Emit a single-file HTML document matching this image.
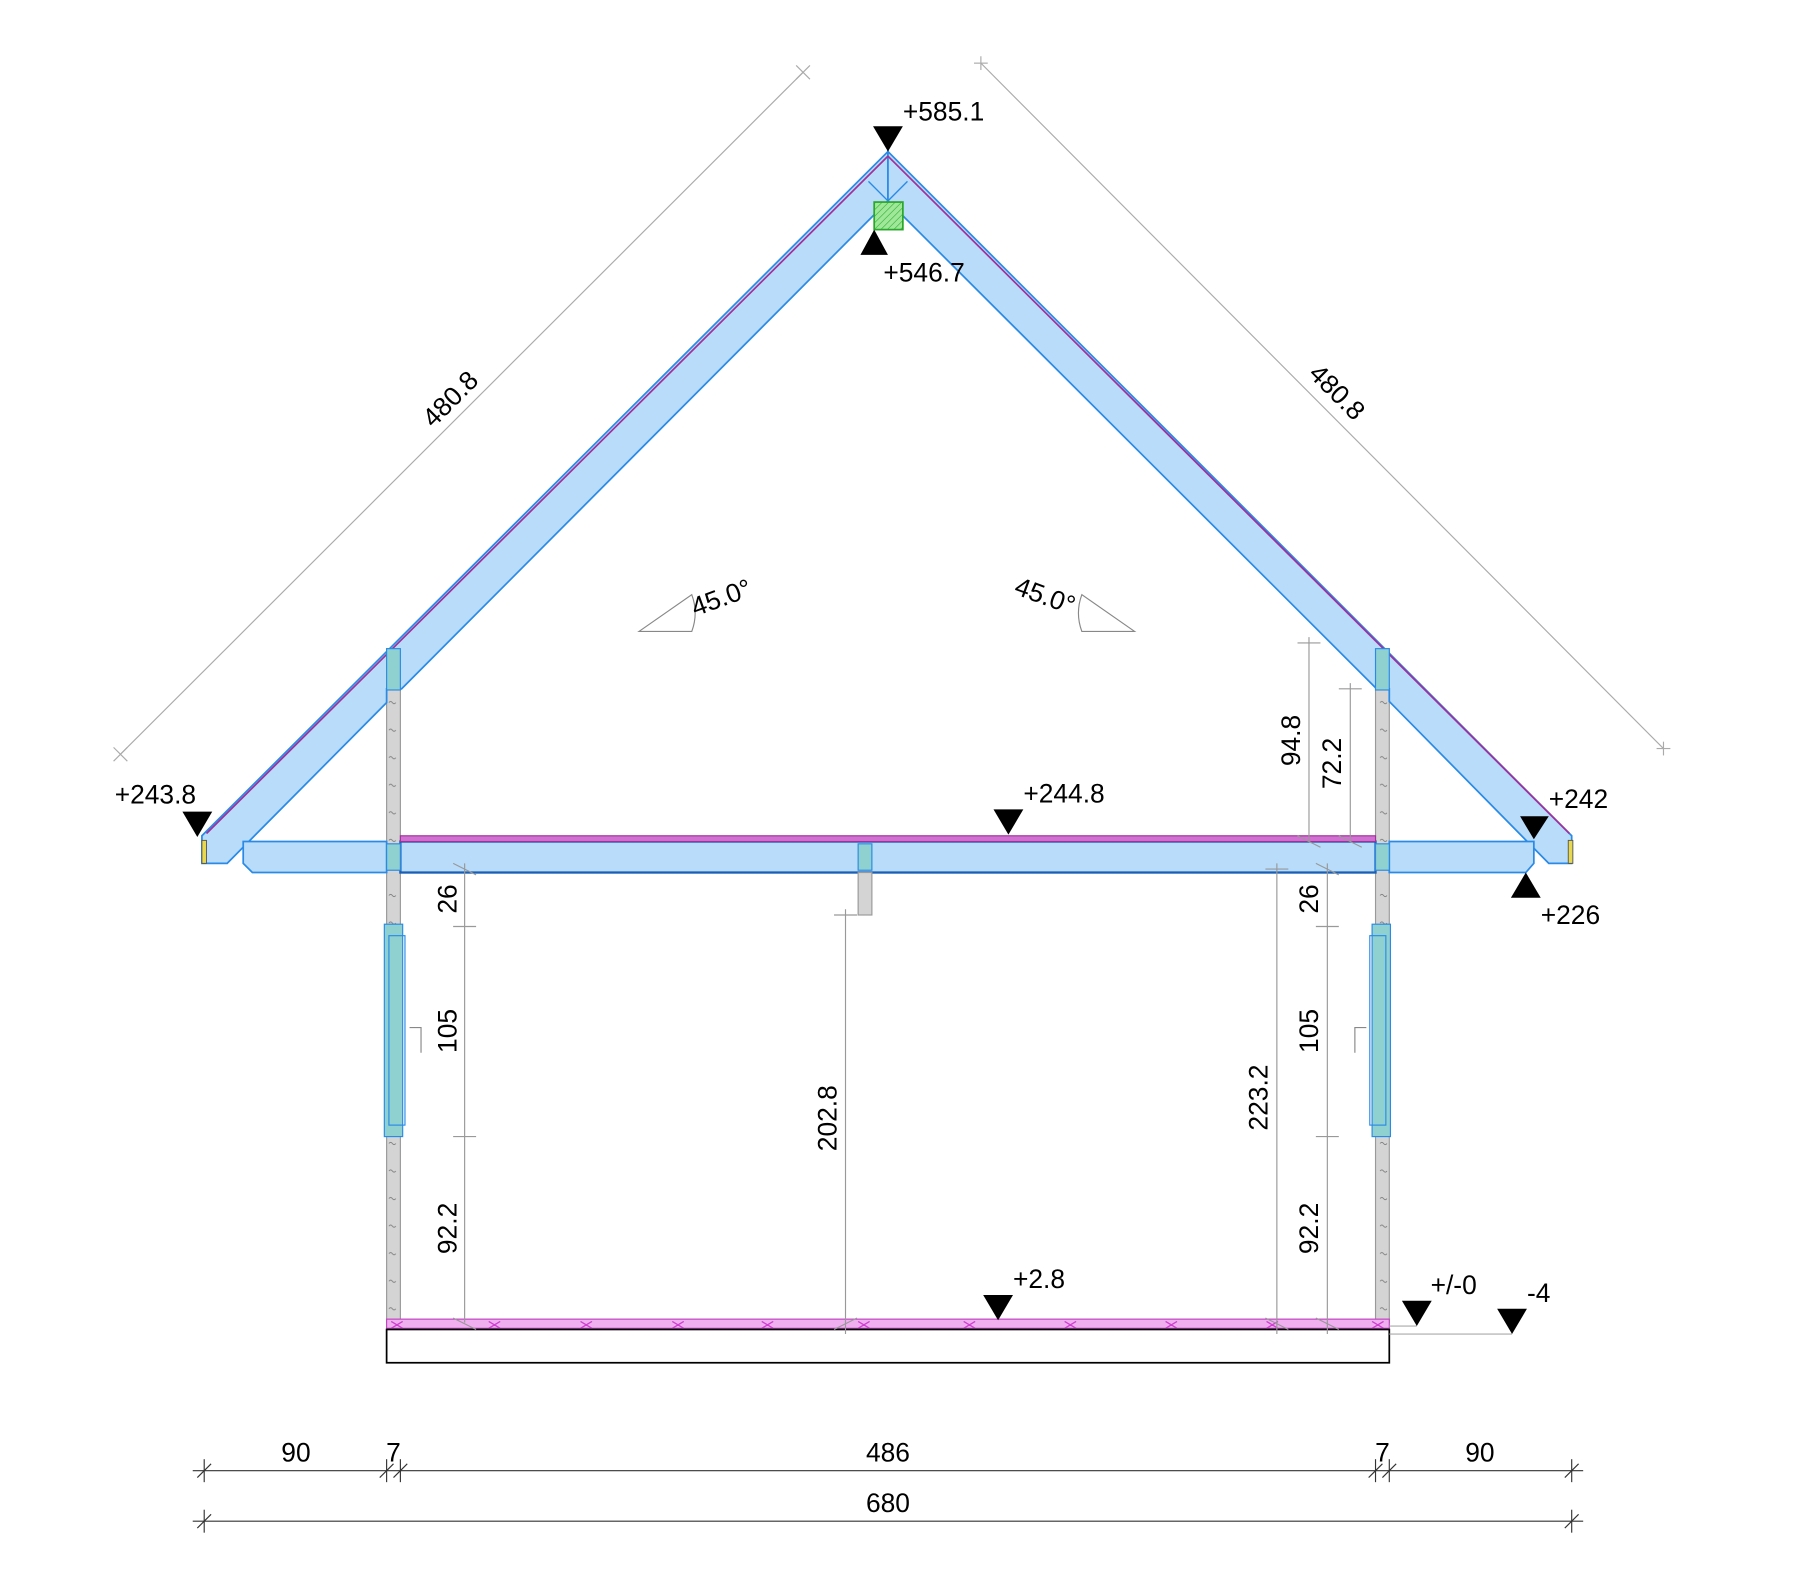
<!DOCTYPE html>
<html><head><meta charset="utf-8"><style>
html,body{margin:0;padding:0;background:#fff;}
svg{display:block}
text{font-family:"Liberation Sans",sans-serif;fill:#000;}
</style></head><body>
<svg width="1800" height="1574" viewBox="0 0 1569 1371" preserveAspectRatio="none" xmlns="http://www.w3.org/2000/svg">
<defs>
<pattern id="h" width="4" height="4" patternUnits="userSpaceOnUse" patternTransform="rotate(45)"><rect width="4" height="4" fill="#9fe89a"/><line x1="0" y1="0" x2="0" y2="4" stroke="#2aa82a" stroke-width="1"/></pattern>
<pattern id="wv" width="12" height="24" patternUnits="userSpaceOnUse"><path d="M3 12 q1.5 -2 3 0 q1.5 2 3 0" stroke="#777" stroke-width="0.7" fill="none"/></pattern>
</defs>
<g stroke="#aaa" stroke-width="1">
<line x1="105" y1="657" x2="700" y2="63"/>
<line x1="99" y1="651" x2="111" y2="663"/><line x1="99" y1="663" x2="111" y2="651"/>
<line x1="694" y1="57" x2="706" y2="69"/><line x1="694" y1="69" x2="706" y2="57"/>
<line x1="855" y1="55" x2="1450" y2="652"/>
<line x1="849" y1="55" x2="861" y2="55"/><line x1="855" y1="49" x2="855" y2="61"/>
<line x1="1444" y1="652" x2="1456" y2="652"/><line x1="1450" y1="646" x2="1450" y2="658"/>
</g>
<text transform="translate(398,353) rotate(-45)" font-size="23" text-anchor="middle">480.8</text>
<text transform="translate(1160,347) rotate(45)" font-size="23" text-anchor="middle">480.8</text>

<rect x="337" y="565" width="12" height="587" fill="#d4d4d4" stroke="#999" stroke-width="1"/>
<rect x="1199" y="565" width="12" height="587" fill="#d4d4d4" stroke="#999" stroke-width="1"/>
<rect x="337" y="565" width="12" height="587" fill="url(#wv)"/>
<rect x="1199" y="565" width="12" height="587" fill="url(#wv)"/>

<g fill="#b8dcfa" stroke="#2a8ae6" stroke-width="1.5">
<polygon points="176,728 774,132 774,175 350,600 337,600 337,612 198,752 176,752"/>
<polygon points="1370,728 774,132 774,175 1200,600 1211,600 1211,611 1350,752 1370,752"/>
<polygon points="212,733 337,733 337,760 220,760 212,752"/>
<polygon points="1211,733 1337,733 1337,752 1330,760 1211,760"/>
<rect x="349" y="733" width="850" height="27" stroke="#1a5fb4" stroke-width="2"/>
</g>
<path d="M757 158 L791 158 M774 141 L774 175" stroke="none"/>
<path d="M757 192 L791 158 M791 192 L757 158" stroke="#2a8ae6" stroke-width="1.2" fill="none"/>
<line x1="180" y1="726" x2="774" y2="136" stroke="#a0309a" stroke-width="1.5"/>
<line x1="774" y1="136" x2="1368" y2="726" stroke="#a0309a" stroke-width="1.5"/>
<rect x="176" y="732" width="4" height="20" fill="#e8d850" stroke="#555" stroke-width="0.8"/>
<rect x="1367" y="732" width="4" height="20" fill="#e8d850" stroke="#555" stroke-width="0.8"/>
<rect x="349" y="728" width="850" height="5" fill="#d070d0" stroke="#a0309a" stroke-width="1"/>
<g fill="#8fd0d0" stroke="#2a8ae6" stroke-width="1">
<rect x="337" y="565" width="12" height="36"/>
<rect x="1199" y="565" width="12" height="36"/>
<rect x="337" y="735" width="12" height="23"/>
<rect x="1199" y="735" width="12" height="23"/>
<rect x="748" y="735" width="12" height="23"/>
<rect x="335" y="805" width="16" height="185"/>
<rect x="339" y="815" width="14" height="165" fill="none"/>
<rect x="1196" y="805" width="16" height="185"/>
<rect x="1194" y="815" width="14" height="165" fill="none"/>
</g>
<rect x="748" y="760" width="12" height="37" fill="#d4d4d4" stroke="#999"/>
<path d="M357 895 h10 v22 M1191 895 h-10 v22" stroke="#888" fill="none"/>
<rect x="762" y="176" width="25" height="24" fill="url(#h)" stroke="#2aa82a" stroke-width="1.5"/>

<rect x="337" y="1149" width="874" height="8" fill="#f0b0f0" stroke="#c040c0" stroke-width="1"/>
<g stroke="#d040d0" stroke-width="1.2">
<path d="M426 1151 l10 6 m0 -6 l-10 6 M506 1151 l10 6 m0 -6 l-10 6 M586 1151 l10 6 m0 -6 l-10 6 M664 1151 l10 6 m0 -6 l-10 6 M748 1151 l10 6 m0 -6 l-10 6 M840 1151 l10 6 m0 -6 l-10 6 M928 1151 l10 6 m0 -6 l-10 6 M1016 1151 l10 6 m0 -6 l-10 6 M1104 1151 l10 6 m0 -6 l-10 6 M341 1151 l10 6 m0 -6 l-10 6 M1196 1151 l10 6 m0 -6 l-10 6"/>
</g>
<rect x="337" y="1158" width="874" height="29" fill="#fff" stroke="#000" stroke-width="1.5"/>
<line x1="1211" y1="1162" x2="1318" y2="1162" stroke="#aaa"/>
<line x1="1211" y1="1155" x2="1235" y2="1155" stroke="#aaa"/>

<path d="M557 550 L603 518 A46 46 0 0 1 603 550 Z" fill="none" stroke="#888"/>
<path d="M989 550 L943 518 A46 46 0 0 0 943 550 Z" fill="none" stroke="#888"/>
<text transform="translate(606,537) rotate(-20)" font-size="23">45.0°</text>
<text transform="translate(883,517) rotate(20)" font-size="23">45.0°</text>

<g stroke="#999" stroke-width="1">
<line x1="405" y1="752" x2="405" y2="1152"/>
<line x1="737" y1="792" x2="737" y2="1162"/>
<line x1="1113" y1="752" x2="1113" y2="1162"/>
<line x1="1157" y1="752" x2="1157" y2="1162"/>
<line x1="1141" y1="555" x2="1141" y2="733"/>
<line x1="1177" y1="595" x2="1177" y2="733"/>
<line x1="395" y1="807" x2="415" y2="807"/><line x1="395" y1="990" x2="415" y2="990"/>
<line x1="1147" y1="807" x2="1167" y2="807"/><line x1="1147" y1="990" x2="1167" y2="990"/>
<line x1="727" y1="797" x2="747" y2="797"/>
<line x1="1131" y1="560" x2="1151" y2="560"/><line x1="1167" y1="600" x2="1187" y2="600"/>
<line x1="1103" y1="757" x2="1123" y2="757"/>
<line x1="395" y1="1148" x2="415" y2="1158"/><line x1="727" y1="1158" x2="747" y2="1148"/>
<line x1="1103" y1="1148" x2="1123" y2="1158"/><line x1="1147" y1="1148" x2="1167" y2="1158"/>
<line x1="1131" y1="728" x2="1151" y2="738"/><line x1="1167" y1="728" x2="1187" y2="738"/>
<line x1="395" y1="752" x2="415" y2="762"/><line x1="1147" y1="752" x2="1167" y2="762"/>
</g>
<g font-size="23">
<text transform="translate(398,783) rotate(-90)" text-anchor="middle">26</text>
<text transform="translate(398,898) rotate(-90)" text-anchor="middle">105</text>
<text transform="translate(398,1070) rotate(-90)" text-anchor="middle">92.2</text>
<text transform="translate(729,974) rotate(-90)" text-anchor="middle">202.8</text>
<text transform="translate(1105,956) rotate(-90)" text-anchor="middle">223.2</text>
<text transform="translate(1149,783) rotate(-90)" text-anchor="middle">26</text>
<text transform="translate(1149,898) rotate(-90)" text-anchor="middle">105</text>
<text transform="translate(1149,1070) rotate(-90)" text-anchor="middle">92.2</text>
<text transform="translate(1133,645) rotate(-90)" text-anchor="middle">94.8</text>
<text transform="translate(1169,665) rotate(-90)" text-anchor="middle">72.2</text>
</g>

<g fill="#000">
<polygon points="761,110 787,110 774,132"/>
<polygon points="750,222 774,222 762,200"/>
<polygon points="159,707 185,707 172,729"/>
<polygon points="866,705 892,705 879,727"/>
<polygon points="1325,711 1350,711 1337,731"/>
<polygon points="1317,782 1343,782 1330,760"/>
<polygon points="857,1128 883,1128 870,1150"/>
<polygon points="1222,1133 1248,1133 1235,1155"/>
<polygon points="1305,1140 1331,1140 1318,1162"/>
</g>
<g font-size="23">
<text x="787" y="105">+585.1</text>
<text x="770" y="245">+546.7</text>
<text x="100" y="700">+243.8</text>
<text x="892" y="699">+244.8</text>
<text x="1350" y="704">+242</text>
<text x="1343" y="805">+226</text>
<text x="883" y="1122">+2.8</text>
<text x="1247" y="1127">+/-0</text>
<text x="1331" y="1134">-4</text>
</g>

<g stroke="#333" stroke-width="1">
<line x1="168" y1="1281" x2="1380" y2="1281"/>
<line x1="168" y1="1325" x2="1380" y2="1325"/>
<line x1="178" y1="1271" x2="178" y2="1291"/><line x1="172" y1="1287" x2="184" y2="1275"/>
<line x1="337" y1="1271" x2="337" y2="1291"/><line x1="331" y1="1287" x2="343" y2="1275"/>
<line x1="349" y1="1271" x2="349" y2="1291"/><line x1="343" y1="1287" x2="355" y2="1275"/>
<line x1="1199" y1="1271" x2="1199" y2="1291"/><line x1="1193" y1="1287" x2="1205" y2="1275"/>
<line x1="1211" y1="1271" x2="1211" y2="1291"/><line x1="1205" y1="1287" x2="1217" y2="1275"/>
<line x1="1370" y1="1271" x2="1370" y2="1291"/><line x1="1364" y1="1287" x2="1376" y2="1275"/>
<line x1="178" y1="1315" x2="178" y2="1335"/><line x1="172" y1="1331" x2="184" y2="1319"/>
<line x1="1370" y1="1315" x2="1370" y2="1335"/><line x1="1364" y1="1331" x2="1376" y2="1319"/>
</g>
<g font-size="23" text-anchor="middle">
<text x="258" y="1273">90</text>
<text x="343" y="1273">7</text>
<text x="774" y="1273">486</text>
<text x="1205" y="1273">7</text>
<text x="1290" y="1273">90</text>
<text x="774" y="1317">680</text>
</g>
</svg>
</body></html>
